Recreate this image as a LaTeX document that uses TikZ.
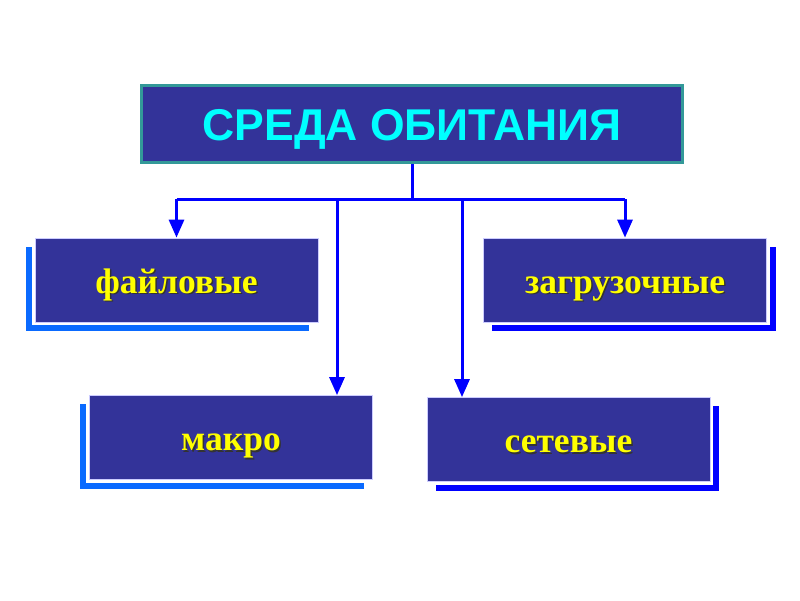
\documentclass[tikz,border=0pt]{standalone}
\usepackage{fontspec}
\setmainfont{Liberation Serif}
\newfontfamily\headfont{Liberation Sans}
\usetikzlibrary{arrows.meta,calc,backgrounds}
\definecolor{boxblue}{HTML}{333399}
\definecolor{rimteal}{HTML}{339999}
\definecolor{linkblue}{HTML}{0000FF}
\definecolor{shadelight}{HTML}{0A6AFF}
\definecolor{shadedeep}{HTML}{0000FF}
\definecolor{rimlight}{HTML}{CCCCFF}
\definecolor{headtext}{HTML}{00FFFF}
\definecolor{itemyellow}{HTML}{FFFF00}
\tikzset{
  headbox/.style={fill=boxblue, draw=rimteal, line width=3pt, inner sep=0pt,
    minimum width=541pt, minimum height=77pt},
  headtxt/.style={text=headtext, anchor=base, inner sep=0pt,
    font=\headfont\bfseries\fontsize{44.5}{50}\selectfont},
  itembox/.style={fill=boxblue, draw=rimlight, line width=0.8pt, inner sep=0pt,
    minimum width=283pt, minimum height=84pt},
  itemtext/.style={text=itemyellow, anchor=base, inner sep=0pt,
    font=\bfseries\fontsize{35.5}{40}\selectfont},
  itemshade/.style={itemtext, text=black!80},
  link/.style={draw=linkblue, line width=3pt},
  arr/.style={link, -{Triangle[width=15pt,length=18pt]}},
}
\newcommand{\boxlabel}[3]{%
  \node[itemshade] at ($(#1)+(1.5,14.5)$) {#3};
  \node[itemtext] (#2) at ($(#1)+(0,13)$) {#3};}
\begin{document}
\begin{tikzpicture}[x=1pt,y=-1pt]
\useasboundingbox (0,0) rectangle (800,600);
\node[headbox] (top) at (412,124) {};
\node[headtxt] (toptext) at ($(top.center)+(0,16)$) {СРЕДА ОБИТАНИЯ};
\node[itembox] (a) at (176.5,280) {};
\node[itembox] (b) at (625,280) {};
\node[itembox] (c) at (231,437.5) {};
\node[itembox] (d) at (568.5,439.5) {};
\begin{pgfonlayer}{background}
  \fill[shadelight] ($(a.north west)+(-9,9)$) rectangle ($(a.south east)+(-9,9)$);
  \fill[shadedeep]  ($(b.north west)+(9,9)$) rectangle ($(b.south east)+(9,9)$);
  \fill[shadelight] ($(c.north west)+(-9,9)$) rectangle ($(c.south east)+(-9,9)$);
  \fill[shadedeep]  ($(d.north west)+(9,9)$) rectangle ($(d.south east)+(9,9)$);
  \foreach \n in {a,b,c,d}
    \fill[white] ($(\n.north west)+(-3,-3)$) rectangle ($(\n.south east)+(3,3)$);
\end{pgfonlayer}
\boxlabel{a.center}{ta}{файловые}
\boxlabel{b.center}{tb}{загрузочные}
\boxlabel{c.center}{tc}{макро}
\boxlabel{d.center}{td}{сетевые}
\coordinate (j) at ($(top.south)+(0,35)$);
\coordinate (m1) at (337,199);
\coordinate (m2) at (462,199);
\draw[link] (top.south) -- (j);
\draw[link] (a.north |- j) -- (b.north |- j);
\draw[arr] (j -| a.north) -- (a.north);
\draw[arr] (j -| b.north) -- (b.north);
\draw[arr] (m1) -- (m1 |- c.north);
\draw[arr] (m2) -- (m2 |- d.north);
\end{tikzpicture}
\end{document}
